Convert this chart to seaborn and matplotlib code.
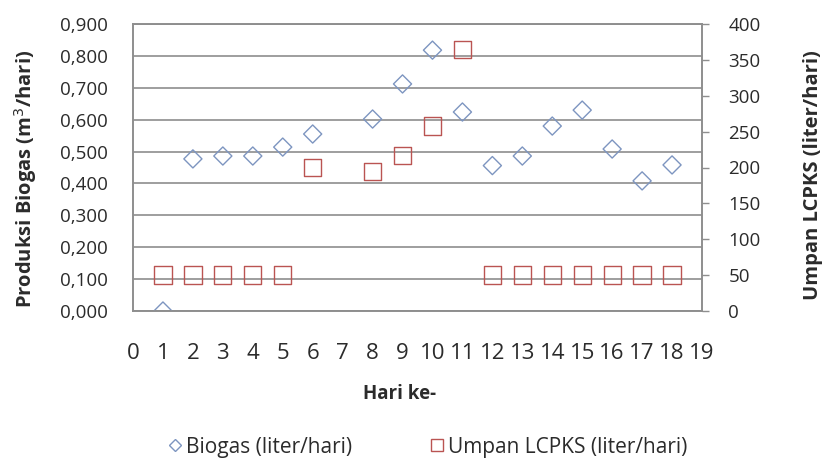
import matplotlib
matplotlib.use("Agg")
import matplotlib.pyplot as plt
from matplotlib.lines import Line2D
from matplotlib.ticker import FuncFormatter
import numpy as np
import pandas as pd
import seaborn as sns

# Daily observations (day 7 not recorded)
hari = [1, 2, 3, 4, 5, 6, 8, 9, 10, 11, 12, 13, 14, 15, 16, 17, 18]
biogas = [0.000, 0.477, 0.486, 0.486, 0.514, 0.555, 0.602, 0.712, 0.818,
          0.624, 0.456, 0.486, 0.580, 0.630, 0.508, 0.408, 0.458]
umpan = [50, 50, 50, 50, 50, 200, 194, 217, 258, 364,
         50, 50, 50, 50, 50, 50, 50]

x_ticks = list(range(0, 20))
left_ticks = [0.0, 0.1, 0.2, 0.3, 0.4, 0.5, 0.6, 0.7, 0.8, 0.9]
right_ticks = [0, 50, 100, 150, 200, 250, 300, 350, 400]

df = pd.DataFrame({"Hari": hari, "Biogas": biogas, "Umpan": umpan})

sns.set_theme(style="white")
plt.rcParams["font.family"] = ["Open Sans", "DejaVu Sans"]

BLUE = "#7D95C0"
RED = "#BA5452"
GRID = "#8E8E8E"
TEXT = "#2B2B2B"

fig = plt.figure(figsize=(8.23, 4.71), dpi=100)
fig.subplots_adjust(left=133 / 823, right=702 / 823,
                    bottom=1 - 311 / 471, top=1 - 24 / 471)
ax = fig.add_subplot(111)
ax2 = ax.twinx()

sns.scatterplot(data=df, x="Hari", y="Biogas", ax=ax, marker="D", s=85,
                facecolor="none", edgecolor=BLUE, linewidth=1.0, zorder=3,
                legend=False)
sns.scatterplot(data=df, x="Hari", y="Umpan", ax=ax2, marker="s", s=155,
                facecolor="none", edgecolor=RED, linewidth=1.0, zorder=3,
                legend=False)

# Left axis: biogas production
ax.set_xlim(0, 19)
ax.set_ylim(0, 0.9)
ax.set_yticks(left_ticks)
ax.yaxis.set_major_formatter(FuncFormatter(lambda v, p: f"{v:.3f}".replace(".", ",")))
ax.set_xticks(x_ticks)
ax.grid(axis="y", color=GRID, linewidth=1.2)
ax.grid(axis="x", visible=False)
ax.tick_params(axis="y", length=0, pad=18, labelsize=13.5, labelcolor=TEXT)
ax.tick_params(axis="x", length=0, pad=23, labelsize=16, labelcolor=TEXT)

# Right axis: LCPKS feed
ax2.set_ylim(0, 400)
ax2.set_yticks(right_ticks)
ax2.tick_params(axis="y", direction="out", length=5, width=1, color=GRID,
                pad=14, labelsize=13.5, labelcolor=TEXT)
ax2.grid(False)

for a in (ax, ax2):
    for sp in a.spines.values():
        sp.set_color(GRID)
        sp.set_linewidth(1.2)

ax.set_xlabel("Hari ke-", fontsize=13.5, fontweight="bold", color=TEXT)
ax.xaxis.set_label_coords(0.469, -0.288)
ax.xaxis.label.set_va("center")

ax.set_ylabel("Produksi Biogas (m$^3$/hari)", fontsize=14.5, fontweight="bold", color=TEXT)
ax.yaxis.set_label_coords(-0.188, 0.46)
ax.yaxis.label.set_va("center")

ax2.set_ylabel("Umpan LCPKS (liter/hari)", fontsize=14.5, fontweight="bold", color=TEXT)
ax2.yaxis.set_label_coords(1.195, 0.475)
ax2.yaxis.label.set_va("center")

handles = [
    Line2D([], [], linestyle="none", marker="D", markersize=6,
           markerfacecolor="none", markeredgecolor=BLUE, markeredgewidth=1.0),
    Line2D([], [], linestyle="none", marker="s", markersize=8,
           markerfacecolor="none", markeredgecolor=RED, markeredgewidth=1.0),
]
labels = ["Biogas (liter/hari)", "Umpan LCPKS (liter/hari)"]
fig.legend(handles, labels, loc="center", ncol=2, frameon=False,
           bbox_to_anchor=(428 / 823, 1 - 447 / 471), fontsize=15,
           handlelength=0.6, handletextpad=0.2, columnspacing=3.8,
           labelcolor=TEXT)

fig.savefig("out.png", dpi=100)
